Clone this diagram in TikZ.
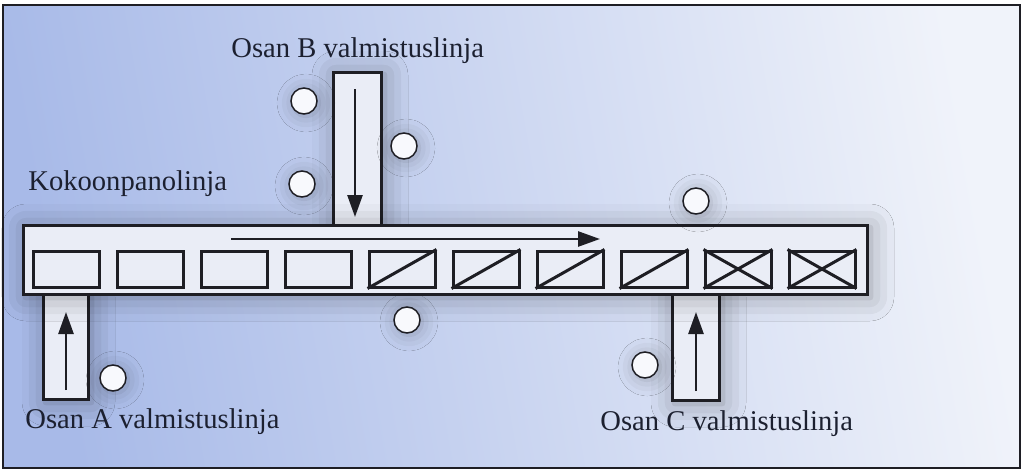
\documentclass[tikz,border=0pt]{standalone}
\usepackage{fontspec}
\setmainfont{Liberation Serif}
\usetikzlibrary{arrows.meta,shadows.blur}
\definecolor{bgA}{RGB}{168,186,232}
\definecolor{bgM}{RGB}{200,212,238}
\definecolor{bgB}{RGB}{240,243,250}
\definecolor{ink}{RGB}{30,30,36}
\definecolor{txt}{RGB}{28,32,48}
\definecolor{boxfill}{RGB}{234,237,246}
\tikzset{
  px/.style={x=0.5pt,y=-0.5pt},
  lbl/.style={anchor=base west,inner sep=0pt,text=txt,font=\fontsize{14.3pt}{16pt}\selectfont},
  beltbox/.style={draw=ink,line width=1.5pt,fill=boxfill,inner sep=0pt,
     blur shadow={shadow xshift=1.5pt,shadow yshift=-1.5pt,shadow blur radius=12pt,shadow opacity=35}},
  part/.style={draw=ink,line width=1.5pt,fill=boxfill,inner sep=0pt,minimum width=33pt,minimum height=18pt},
  stn/.style={circle,draw=ink,line width=0.75pt,fill=white!92!bgA,inner sep=0pt,minimum size=13pt,
     blur shadow={shadow xshift=1pt,shadow yshift=-1pt,shadow blur radius=8pt,shadow opacity=25}},
  flow/.style={draw=ink,line width=1.3pt,-{Triangle[length=11pt,width=7.5pt]}}
}
\begin{document}
\begin{tikzpicture}[px]
\useasboundingbox (0,0) rectangle (1023,471);
\fill[white] (0,0) rectangle (1023,471);
\shade[left color=bgA,middle color=bgM,right color=bgB,shading angle=100] (3,5) rectangle (1020,468);
\draw[ink,line width=1.2pt] (3,5) rectangle (1020,468);
% feeder lines
\node[beltbox,minimum width=24pt,minimum height=76.5pt] (feedB) at (357,148.5) {};
\node[beltbox,minimum width=22.5pt,minimum height=52.5pt] (feedA) at (65.5,346.5) {};
\node[beltbox,minimum width=23.5pt,minimum height=53pt] (feedC) at (695.5,347) {};
% main assembly line
\node[beltbox,minimum width=422pt,minimum height=34.5pt] (conv) at (445,259.5) {};
% parts
\foreach \i in {1,...,10}{
  \node[part] (p\i) at ({66+84*(\i-1)},269) {};
}
\foreach \i in {5,6,7,8,9,10}{
  \draw[ink,line width=1.5pt] (p\i.south west) -- (p\i.north east);
}
\foreach \i in {9,10}{
  \draw[ink,line width=1.5pt] (p\i.north west) -- (p\i.south east);
}
% flow arrows
\coordinate (cs) at (231,239); \coordinate (ce) at (600,239);
\draw[flow] (cs) -- (ce);
\coordinate (bs) at (355,89); \coordinate (be) at (355,217);
\draw[flow] (bs) -- (be);
\coordinate (as) at (66,390); \coordinate (ae) at (66,312);
\draw[flow] (as) -- (ae);
\coordinate (cs2) at (696,391); \coordinate (ce2) at (696,312);
\draw[flow] (cs2) -- (ce2);
% stations
\node[stn] (s1) at (304,101) {};
\node[stn] (s2) at (404,146) {};
\node[stn] (s3) at (302,184) {};
\node[stn] (s4) at (696,201) {};
\node[stn] (s5) at (407,320) {};
\node[stn] (s6) at (113,378) {};
\node[stn] (s7) at (645,365) {};
% labels
\node[lbl] (lB) at (231,57) {Osan B valmistuslinja};
\node[lbl] (lK) at (28,190) {Kokoonpanolinja};
\node[lbl] (lA) at (25,428) {Osan A valmistuslinja};
\node[lbl] (lC) at (600,430) {Osan C valmistuslinja};
\end{tikzpicture}
\end{document}
